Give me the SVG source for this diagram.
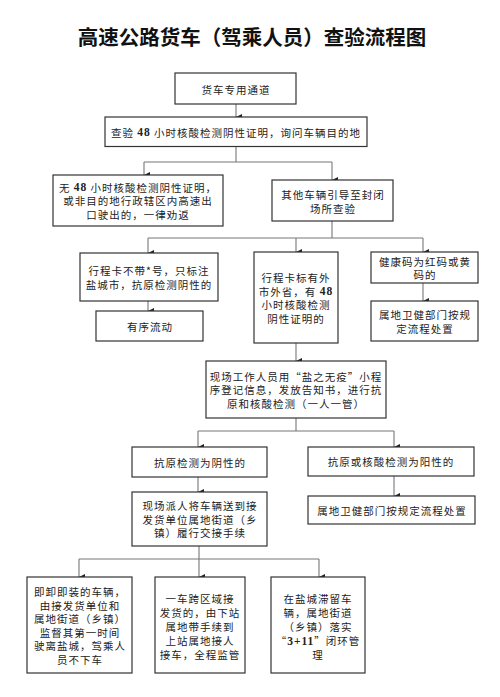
<svg xmlns="http://www.w3.org/2000/svg" width="500" height="697" viewBox="0 0 500 697">
<defs>
<marker id="ah" markerWidth="6" markerHeight="6" refX="3" refY="6" orient="auto-start-reverse" markerUnits="userSpaceOnUse" viewBox="0 0 6 6">
<path d="M0,0 L6,0 L3,6 Z" fill="#222"/>
</marker>
<style>
.box{fill:#fff;stroke:#333;stroke-width:1.2}
.t{font-family:"Noto Sans CJK SC","Noto Sans",sans-serif;font-size:10.5px;fill:#222;text-anchor:middle;dominant-baseline:central;letter-spacing:1px}
.n{font-family:"Liberation Serif",serif;font-weight:bold;font-size:11.5px}
.c{fill:none;stroke:#777;stroke-width:1.1}
.a{fill:none;stroke:#777;stroke-width:1.1;marker-end:url(#ah)}
.title{font-family:"Noto Sans CJK SC",sans-serif;font-weight:bold;font-size:20.5px;fill:#111;text-anchor:middle}
</style>
</defs>
<rect width="500" height="697" fill="#fff"/>
<text class="title" x="252" y="45">高速公路货车（驾乘人员）查验流程图</text>

<g id="connectors">
<path class="a" d="M236,104 V117"/>
<path class="c" d="M236,146.5 V162 M144,162 H332"/>
<path class="a" d="M144,162 V175"/>
<path class="a" d="M332,162 V180"/>
<path class="c" d="M332,221 V238 M148,238 H423"/>
<path class="a" d="M148,238 V253"/>
<path class="a" d="M296,238 V252"/>
<path class="a" d="M423,238 V252"/>
<path class="a" d="M148,301 V311"/>
<path class="a" d="M423,283 V301"/>
<path class="a" d="M296,343 V361"/>
<path class="c" d="M296,418 V431 M198,431 H394"/>
<path class="a" d="M198,431 V447"/>
<path class="a" d="M394,431 V447"/>
<path class="a" d="M198,477 V492"/>
<path class="a" d="M394,476 V496"/>
<path class="c" d="M199,546 V559 M79,559 H319"/>
<path class="a" d="M79,559 V577"/>
<path class="a" d="M199,559 V577"/>
<path class="a" d="M319,559 V577"/>
</g>

<g id="n1"><rect class="box" x="175" y="73" width="121" height="31"/>
<text class="t" x="236" y="89">货车专用通道</text></g>

<g id="n2"><rect class="box" x="105" y="117" width="262" height="29.5"/>
<text class="t" x="236" y="132">查验 <tspan class="n">48</tspan> 小时核酸检测阴性证明，询问车辆目的地</text></g>

<g id="n3"><rect class="box" x="53" y="175" width="170" height="51"/>
<text class="t" x="138" y="187">无 <tspan class="n">48</tspan> 小时核酸检测阴性证明，</text>
<text class="t" x="138" y="200.5">或非目的地行政辖区内高速出</text>
<text class="t" x="138" y="214">口驶出的，一律劝返</text></g>

<g id="n4"><rect class="box" x="272" y="180" width="121" height="41"/>
<text class="t" x="333" y="194">其他车辆引导至封闭</text>
<text class="t" x="333" y="208">场所查验</text></g>

<g id="n5"><rect class="box" x="80" y="253" width="138" height="48"/>
<text class="t" x="149" y="270.5">行程卡不带*号，只标注</text>
<text class="t" x="149" y="284">盐城市，抗原检测阴性的</text></g>

<g id="n6"><rect class="box" x="96" y="311" width="107" height="30"/>
<text class="t" x="150" y="326">有序流动</text></g>

<g id="n7"><rect class="box" x="254" y="252" width="84" height="91"/>
<text class="t" x="296" y="277">行程卡标有外</text>
<text class="t" x="296" y="291">市外省，有 <tspan class="n">48</tspan></text>
<text class="t" x="296" y="304.5">小时核酸检测</text>
<text class="t" x="296" y="318">阴性证明的</text></g>

<g id="n8"><rect class="box" x="371" y="252" width="107" height="31"/>
<text class="t" x="425" y="261">健康码为红码或黄</text>
<text class="t" x="425" y="274.5">码的</text></g>

<g id="n9"><rect class="box" x="371" y="301" width="107" height="40"/>
<text class="t" x="425" y="314">属地卫健部门按规</text>
<text class="t" x="425" y="328">定流程处置</text></g>

<g id="n10"><rect class="box" x="206" y="361" width="180" height="57"/>
<text class="t" x="296" y="376">现场工作人员用“盐之无疫”小程</text>
<text class="t" x="296" y="389.5">序登记信息，发放告知书，进行抗</text>
<text class="t" x="296" y="403">原和核酸检测（一人一管）</text></g>

<g id="n11"><rect class="box" x="132" y="447" width="135" height="30"/>
<text class="t" x="200" y="462">抗原检测为阴性的</text></g>

<g id="n12"><rect class="box" x="308" y="447" width="166" height="29"/>
<text class="t" x="391" y="461.5">抗原或核酸检测为阳性的</text></g>

<g id="n13"><rect class="box" x="132" y="492" width="135" height="54"/>
<text class="t" x="200" y="505.5">现场派人将车辆送到接</text>
<text class="t" x="200" y="519">发货单位属地街道（乡</text>
<text class="t" x="200" y="532.5">镇）履行交接手续</text></g>

<g id="n14"><rect class="box" x="308" y="496" width="167" height="28"/>
<text class="t" x="392" y="510">属地卫健部门按规定流程处置</text></g>

<g id="n15"><rect class="box" x="27" y="577" width="105" height="96"/>
<text class="t" x="80" y="591.5">即卸即装的车辆，</text>
<text class="t" x="80" y="605">由接发货单位和</text>
<text class="t" x="80" y="618.5">属地街道（乡镇）</text>
<text class="t" x="80" y="632">监督其第一时间</text>
<text class="t" x="80" y="645.5">驶离盐城，驾乘人</text>
<text class="t" x="80" y="659">员不下车</text></g>

<g id="n16"><rect class="box" x="155" y="577" width="90" height="96"/>
<text class="t" x="200" y="598.5">一车跨区域接</text>
<text class="t" x="200" y="612.5">发货的，由下站</text>
<text class="t" x="200" y="626.5">属地带手续到</text>
<text class="t" x="200" y="640.5">上站属地接人</text>
<text class="t" x="200" y="654.5">接车，全程监管</text></g>

<g id="n17"><rect class="box" x="271" y="577" width="94" height="96"/>
<text class="t" x="318" y="598.5">在盐城滞留车</text>
<text class="t" x="318" y="612.5">辆，属地街道</text>
<text class="t" x="318" y="626.5">（乡镇）落实</text>
<text class="t" x="318" y="640.5">“<tspan class="n">3+11</tspan>”闭环管</text>
<text class="t" x="318" y="654.5">理</text></g>
</svg>
